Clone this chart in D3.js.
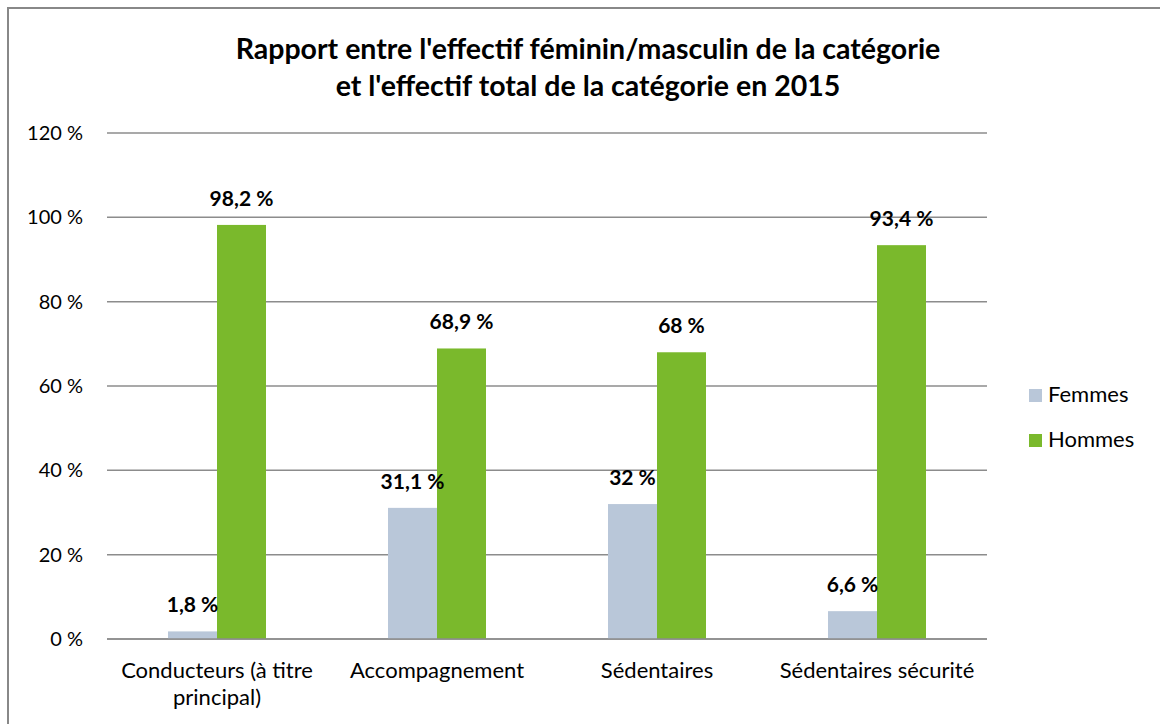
<!DOCTYPE html>
<html>
<head>
<meta charset="utf-8">
<script src="https://cdn.jsdelivr.net/npm/d3@7"></script>
<style>
  body { margin: 0; background: #fff; }
  svg { display: block; font-family: Lato, "Open Sans", sans-serif; }
</style>
</head>
<body>
<svg id="vis"></svg>
<script>
const WIDTH = 1160;
const HEIGHT = 724;

// donnees
const categories = [["Conducteurs (à titre", "principal)"], ["Accompagnement"], ["Sédentaires"], ["Sédentaires sécurité"]];
const series = ["Femmes", "Hommes"];
const femmes = [1.8, 31.1, 32, 6.6];
const hommes = [98.2, 68.9, 68, 93.4];
const ticks = [0, 20, 40, 60, 80, 100, 120];
const couleurs = ["#b9c7d9", "#7ab92c"];
const titre = ["Rapport entre l'effectif féminin/masculin de la catégorie", "et l'effectif total de la catégorie en 2015"];

const svg = d3.select("#vis")
    .attr("width", WIDTH)
    .attr("height", HEIGHT);

// cadre
svg.append("rect")
    .attr("x", 8).attr("y", 8)
    .attr("width", WIDTH + 10).attr("height", HEIGHT + 10)
    .attr("fill", "none")
    .attr("stroke", "#888")
    .attr("stroke-width", 2);

const escalaY = d3.scaleLinear().domain([0, 120]).range([639, 133]);
const escalaX = d3.scaleBand().domain(d3.range(categories.length)).range([107, 987]);
const escalaSerie = d3.scaleBand().domain(series).range([0, 98]);

// grille
svg.append("g")
    .selectAll("line")
    .data(ticks)
    .join("line")
    .attr("x1", 107).attr("x2", 987)
    .attr("y1", d => escalaY(d)).attr("y2", d => escalaY(d))
    .attr("stroke", "#8c8c8c")
    .attr("stroke-width", 1.5);

const ejeY = d3.axisLeft(escalaY)
    .tickValues(ticks)
    .tickSize(0)
    .tickPadding(0)
    .tickFormat(d => d + " %");
svg.append("g")
    .attr("transform", "translate(83,0)")
    .call(ejeY)
    .call(g => g.select(".domain").remove())
    .selectAll("text")
    .attr("font-size", 20)
    .attr("font-family", "Lato, sans-serif")
    .attr("fill", "#000");

// barres
const datos = categories.map((c, i) => ({ i: i, valores: [femmes[i], hommes[i]] }));
const grupos = svg.selectAll(".grupo")
    .data(datos)
    .join("g")
    .attr("class", "grupo")
    .attr("transform", d => `translate(${escalaX(d.i) + escalaX.bandwidth() / 2 - 49},0)`);

grupos.selectAll("rect")
    .data(d => d.valores.map((v, j) => ({ serie: series[j], v: v, j: j })))
    .join("rect")
    .attr("x", d => escalaSerie(d.serie))
    .attr("y", d => escalaY(d.v))
    .attr("width", escalaSerie.bandwidth())
    .attr("height", d => escalaY(0) - escalaY(d.v))
    .attr("fill", d => couleurs[d.j]);

grupos.selectAll(".etiqueta")
    .data(d => d.valores.map((v, j) => ({ serie: series[j], v: v, j: j })))
    .join("text")
    .attr("class", "etiqueta")
    .attr("x", d => escalaSerie(d.serie) + escalaSerie.bandwidth() / 2)
    .attr("y", d => escalaY(d.v) - 19)
    .attr("text-anchor", "middle")
    .attr("font-size", 21)
    .attr("font-weight", "bold")
    .text(d => String(d.v).replace(".", ",") + " %");

// axe horizontal
svg.append("line")
    .attr("x1", 107).attr("x2", 987)
    .attr("y1", escalaY(0)).attr("y2", escalaY(0))
    .attr("stroke", "#8c8c8c")
    .attr("stroke-width", 1.5);

svg.selectAll(".cat")
    .data(categories)
    .join("text")
    .attr("class", "cat")
    .attr("text-anchor", "middle")
    .attr("font-size", 22)
    .attr("transform", (d, i) => `translate(${escalaX(i) + escalaX.bandwidth() / 2},678)`)
    .selectAll("tspan")
    .data(d => d)
    .join("tspan")
    .attr("x", 0)
    .attr("y", (d, k) => k * 27)
    .text(d => d);

// titre
svg.append("text")
    .attr("text-anchor", "middle")
    .attr("font-size", 28.5)
    .attr("font-weight", "bold")
    .selectAll("tspan")
    .data(titre)
    .join("tspan")
    .attr("x", 588)
    .attr("y", (d, k) => 59 + k * 37)
    .text(d => d);

// legende
const leyenda = svg.selectAll(".leyenda")
    .data(series)
    .join("g")
    .attr("class", "leyenda")
    .attr("transform", (d, i) => `translate(1029,${389 + i * 45})`);
leyenda.append("rect")
    .attr("width", 13).attr("height", 13)
    .attr("fill", (d, i) => couleurs[i]);
leyenda.append("text")
    .attr("x", 19).attr("y", 13)
    .attr("font-size", 22)
    .text(d => d);
</script>
</body>
</html>
